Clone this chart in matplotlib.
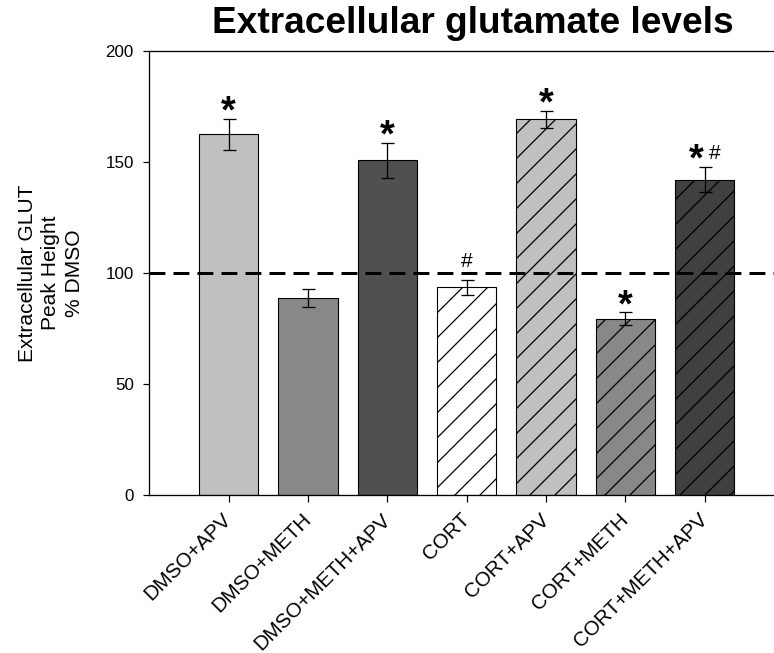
import matplotlib
matplotlib.use('Agg')
import matplotlib.pyplot as plt
import numpy as np

# values (% DMSO, mean and SEM)
groups = ['DMSO+APV', 'DMSO+METH', 'DMSO+METH+APV', 'CORT',
          'CORT+APV', 'CORT+METH', 'CORT+METH+APV']
means = [162.4, 88.7, 150.7, 93.5, 169.3, 79.5, 142.1]
sems = [7.1, 4.0, 7.9, 3.3, 3.8, 2.8, 5.6]
star = [True, False, True, False, True, True, True]
hashmark = [False, False, False, True, False, False, True]
baseline = 100

fills = ['#c0c0c0', '#888888', '#505050', '#ffffff', '#c0c0c0', '#888888', '#404040']
hatches = ['', '', '', '/', '/', '/', '/']

DPI = 75
plt.rcParams['font.family'] = ['Liberation Sans', 'DejaVu Sans']
plt.rcParams['hatch.linewidth'] = 1.2


def px(v):
    # pixels -> points at this dpi
    return v * 72.0 / DPI


fig = plt.figure(figsize=(774 / DPI, 653 / DPI), dpi=DPI)
ax = fig.add_axes([149.3 / 774, 158 / 653, 634.7 / 774, 444 / 653])

x = np.arange(1, len(groups) + 1)
ax.bar(x, means, width=0.75, color=fills, edgecolor='black', hatch=hatches,
       linewidth=px(1.1), zorder=2)
ax.axhline(baseline, color='black', lw=px(3), ls=(0, (5.3, 2.7)), zorder=3)
ax.errorbar(x, means, yerr=sems, fmt='none', ecolor='black', elinewidth=px(1.3),
            capsize=px(6.5), capthick=px(1.3), zorder=4)

for xi, m, s, st, hs in zip(x, means, sems, star, hashmark):
    top = m + s
    if st and hs:
        ax.annotate('*', (xi, top), xytext=(px(-8), px(-3)), textcoords='offset points',
                    ha='center', va='baseline', fontsize=px(38), fontweight='bold')
        ax.annotate('#', (xi, top), xytext=(px(10), px(8)), textcoords='offset points',
                    ha='center', va='baseline', fontsize=px(21))
    elif st:
        ax.annotate('*', (xi, top), xytext=(0, px(-4)), textcoords='offset points',
                    ha='center', va='baseline', fontsize=px(38), fontweight='bold')
    elif hs:
        ax.annotate('#', (xi, top), xytext=(0, px(13)), textcoords='offset points',
                    ha='center', va='baseline', fontsize=px(21))

ax.set_xlim(0, 8)
ax.set_ylim(0, 200)
ax.set_yticks([0, 50, 100, 150, 200])
ax.set_xticks(x)
ax.set_xticklabels(groups, rotation=45, ha='right', va='center', rotation_mode='anchor',
                   fontsize=px(20.5))
ax.tick_params(axis='y', direction='out', length=px(6.5), width=px(1.2), pad=px(9),
               labelsize=px(17))
ax.tick_params(axis='x', direction='out', length=px(6.5), width=px(1.2), pad=px(15))
for sp in ax.spines.values():
    sp.set_linewidth(px(1.3))

ax.set_ylabel('Extracellular GLUT\nPeak Height\n% DMSO', fontsize=px(21), linespacing=1.3)
ax.yaxis.set_label_coords(-0.103, 0.5)
ax.set_title('Extracellular glutamate levels', fontsize=px(37), fontweight='bold',
             x=0.51, pad=px(18))

fig.savefig('out.png', dpi=DPI)
